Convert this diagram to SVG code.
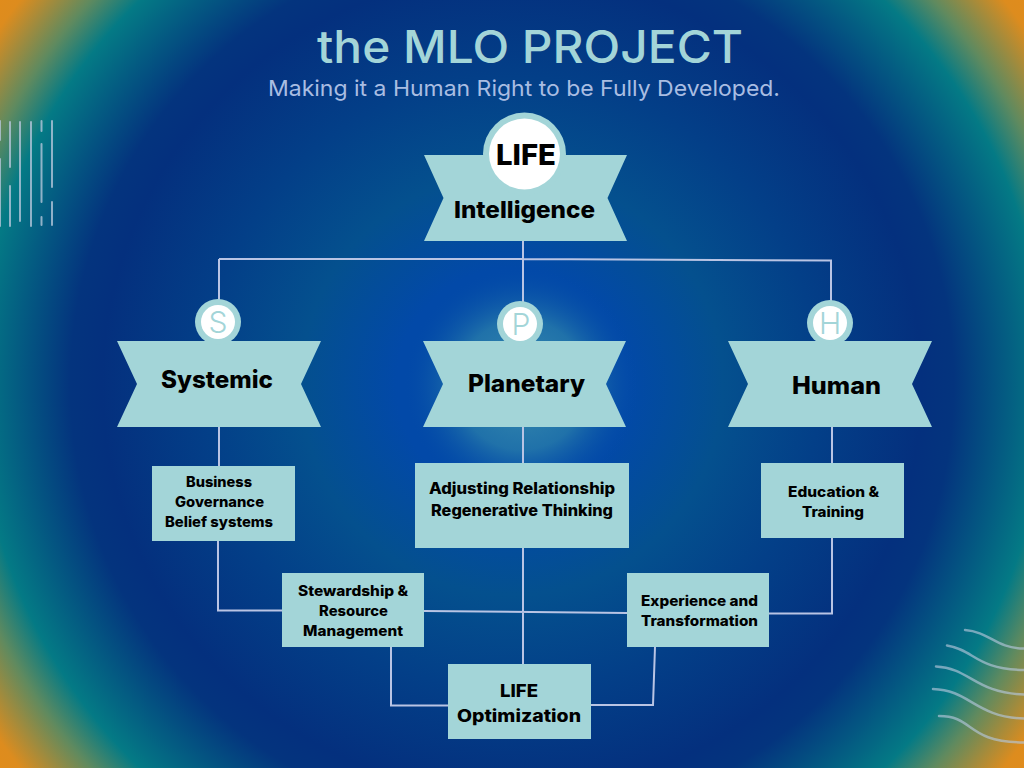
<svg xmlns="http://www.w3.org/2000/svg" width="1024" height="768" viewBox="0 0 1024 768">
<defs>
<radialGradient id="bg" gradientUnits="userSpaceOnUse" cx="512" cy="384" r="640">
<stop offset="0" stop-color="#0249a8"/>
<stop offset="0.18" stop-color="#0249a8"/>
<stop offset="0.33" stop-color="#04508e"/>
<stop offset="0.48" stop-color="#033f88"/>
<stop offset="0.64" stop-color="#04307e"/>
<stop offset="0.69" stop-color="#04347e"/>
<stop offset="0.835" stop-color="#047a85"/>
<stop offset="0.89" stop-color="#5f8a5f"/>
<stop offset="0.975" stop-color="#dd8c1e"/>
<stop offset="1" stop-color="#e08c1c"/>
</radialGradient>
<radialGradient id="glow" gradientUnits="userSpaceOnUse" cx="522" cy="385" r="118">
<stop offset="0" stop-color="#3f93b0" stop-opacity="0.95"/>
<stop offset="0.55" stop-color="#2a7faa" stop-opacity="0.75"/>
<stop offset="1" stop-color="#0249a8" stop-opacity="0"/>
</radialGradient>
<style>
.c{fill:none;stroke:#b9c4e4;stroke-width:2}
.deco{fill:none;stroke:#b4c6da;stroke-width:2;stroke-linecap:round;opacity:.8}
.wave{fill:none;stroke:#b4c6da;stroke-width:2.500;stroke-linecap:round;opacity:.65}
.shape{fill:#a3d5d8}
.t{font-family:Inter,"Liberation Sans",sans-serif;font-weight:800;fill:#000;text-anchor:middle}
.big{font-size:24px}
.sm{font-size:14px}
.m{font-size:15.500px}
.let{font-family:Inter,"Liberation Sans",sans-serif;font-size:30px;font-weight:300;fill:#a3d5d8;text-anchor:middle}
</style>
</defs>
<rect id="background" width="1024" height="768" fill="url(#bg)"/>
<circle cx="522" cy="385" r="118" fill="url(#glow)"/>
<g id="decor">
<path class="deco" d="M0 121V140M0 159V226M10 122V167M10 186V226M20 122V221M31 122V226M41.500 121V131M41.500 144V202M41.500 217V225M52 121V187M52 202V225"/>
<path class="wave" d="M965 630C990 632 995 648 1024 648.500M947 645.500C975 650 975 669 1024 670M936 666.500C970 668 975 693 1024 694.500M933 689C970 690 975 717 1024 718.500M939 716C975 716 965 742 1024 742.500"/>
</g>
<g id="connectors">
<path class="c" d="M523 240V464M219 259H523L831 260.500V342M219 259V342M219 427V466M523 427V464M832 427V464M523 548V664M218 540V610.500H282M424 611L627 613M832 538V613.500H769M391 647V705.500H449M655 647L653 705H591"/>
</g>
<g id="title">
<text x="530" y="63" font-family="Inter,'Liberation Sans',sans-serif" font-size="45" font-weight="500" fill="#a3d5d8" text-anchor="middle" textLength="426" lengthAdjust="spacingAndGlyphs">the MLO PROJECT</text>
<text x="524" y="96" font-family="Inter,'Liberation Sans',sans-serif" font-size="22" fill="#a9bde2" text-anchor="middle" textLength="512" lengthAdjust="spacingAndGlyphs">Making it a Human Right to be Fully Developed.</text>
</g>
<g id="node-intelligence">
<polygon class="shape" points="424,155 627,155 607.500,198 627,241 424,241 443.500,198"/>
<circle class="shape" cx="524.500" cy="154" r="41.500"/>
<circle cx="524.500" cy="154" r="35.500" fill="#fff"/>
<text class="t" x="526" y="165" font-size="29" font-weight="600" textLength="60" lengthAdjust="spacingAndGlyphs">LIFE</text>
<text class="t" x="524.500" y="218" font-size="23" textLength="141" lengthAdjust="spacingAndGlyphs">Intelligence</text>
</g>
<g id="node-systemic">
<polygon class="shape" points="117,341 321,341 301,384 321,427 117,427 137,384"/>
<circle class="shape" cx="218" cy="322" r="23"/>
<circle cx="218" cy="322" r="17" fill="#fff"/>
<text class="let" x="218" y="333">S</text>
<text class="t big" x="217" y="388" textLength="112" lengthAdjust="spacingAndGlyphs">Systemic</text>
</g>
<g id="node-planetary">
<polygon class="shape" points="423,341 626,341 606,384 626,427 423,427 443,384"/>
<circle class="shape" cx="520" cy="324" r="23"/>
<circle cx="520" cy="324" r="17" fill="#fff"/>
<text class="let" x="521" y="335">P</text>
<text class="t big" x="526.500" y="392" textLength="117" lengthAdjust="spacingAndGlyphs">Planetary</text>
</g>
<g id="node-human">
<polygon class="shape" points="728,341 932,341 912,384 932,427 728,427 748,384"/>
<circle class="shape" cx="830" cy="323" r="23"/>
<circle cx="830" cy="323" r="17" fill="#fff"/>
<text class="let" x="830" y="334">H</text>
<text class="t big" x="836.500" y="394" textLength="89" lengthAdjust="spacingAndGlyphs">Human</text>
</g>
<g id="node-business">
<rect class="shape" x="152" y="466" width="143" height="75"/>
<text class="t sm" x="219" y="487" textLength="66" lengthAdjust="spacingAndGlyphs">Business</text>
<text class="t sm" x="219.500" y="507" textLength="89" lengthAdjust="spacingAndGlyphs">Governance</text>
<text class="t sm" x="219" y="527" textLength="108" lengthAdjust="spacingAndGlyphs">Belief systems</text>
</g>
<g id="node-adjusting">
<rect class="shape" x="415" y="463" width="214" height="85"/>
<text class="t m" x="522" y="494" textLength="186" lengthAdjust="spacingAndGlyphs">Adjusting Relationship</text>
<text class="t m" x="522" y="516" textLength="182" lengthAdjust="spacingAndGlyphs">Regenerative Thinking</text>
</g>
<g id="node-education">
<rect class="shape" x="761" y="463" width="143" height="75"/>
<text class="t sm" x="833.500" y="497" textLength="91" lengthAdjust="spacingAndGlyphs">Education &amp;</text>
<text class="t sm" x="833" y="517" textLength="62" lengthAdjust="spacingAndGlyphs">Training</text>
</g>
<g id="node-stewardship">
<rect class="shape" x="282" y="573" width="142" height="74"/>
<text class="t sm" x="353" y="596" textLength="110" lengthAdjust="spacingAndGlyphs">Stewardship &amp;</text>
<text class="t sm" x="353.500" y="616" textLength="69" lengthAdjust="spacingAndGlyphs">Resource</text>
<text class="t sm" x="353" y="636" textLength="100" lengthAdjust="spacingAndGlyphs">Management</text>
</g>
<g id="node-experience">
<rect class="shape" x="627" y="573" width="142" height="74"/>
<text class="t sm" x="699.500" y="606" textLength="117" lengthAdjust="spacingAndGlyphs">Experience and</text>
<text class="t sm" x="699.500" y="626" textLength="117" lengthAdjust="spacingAndGlyphs">Transformation</text>
</g>
<g id="node-optimization">
<rect class="shape" x="448" y="664" width="143" height="75"/>
<text class="t" x="519" y="697" font-size="17" textLength="38" lengthAdjust="spacingAndGlyphs">LIFE</text>
<text class="t" x="519" y="722" font-size="17" textLength="124" lengthAdjust="spacingAndGlyphs">Optimization</text>
</g>
</svg>
